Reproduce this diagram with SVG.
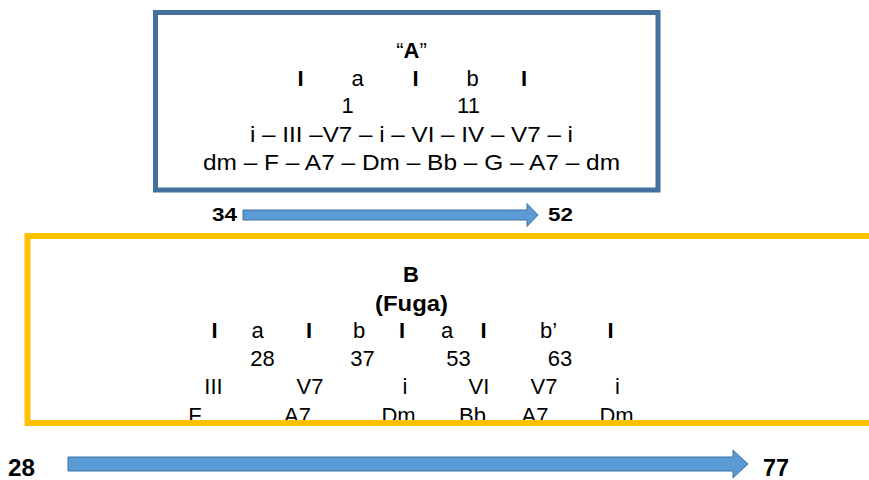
<svg xmlns="http://www.w3.org/2000/svg" width="869" height="480" viewBox="0 0 869 480">
<style>
text{font-family:"Liberation Sans",Arial,sans-serif;fill:#000;}
.t{font-size:22px;text-anchor:middle;}
.b{font-weight:bold;}
.n{font-size:19px;font-weight:bold;}
.n2{font-size:23px;font-weight:bold;}
.arrow{fill:#5B9BD5;stroke:#41719C;stroke-width:1;}
</style>
<rect width="869" height="480" fill="#fff"/>
<g id="sectionA">
<rect x="155.5" y="12.5" width="502.5" height="177.5" fill="#fff" stroke="#41719C" stroke-width="5"/>
<text class="t" x="411.5" y="58">“<tspan class="b">A</tspan>”</text>
<text class="t b" x="300.5" y="86">I</text>
<text class="t" x="357.5" y="86">a</text>
<text class="t b" x="415.5" y="86">I</text>
<text class="t" x="472.5" y="86">b</text>
<text class="t b" x="524" y="86">I</text>
<text class="t" x="347.5" y="113">1</text>
<text class="t" x="468.5" y="113">11</text>
<text x="250" y="142" font-size="22" textLength="323" lengthAdjust="spacingAndGlyphs">i – III –V7 – i – VI – IV – V7 – i</text>
<text x="203" y="170" font-size="22" textLength="417" lengthAdjust="spacingAndGlyphs">dm – F – A7 – Dm – Bb – G – A7 – dm</text>
</g>
<g id="sectionB">
<text class="t b" x="411" y="282">B</text>
<text class="t b" x="411.5" y="311" textLength="73" lengthAdjust="spacingAndGlyphs">(Fuga)</text>
<text class="t b" x="214.5" y="338">I</text>
<text class="t" x="257.5" y="338">a</text>
<text class="t b" x="309" y="338">I</text>
<text class="t" x="359" y="338">b</text>
<text class="t b" x="402" y="338">I</text>
<text class="t" x="447" y="338">a</text>
<text class="t b" x="483.5" y="338">I</text>
<text class="t" x="548.5" y="338">b’</text>
<text class="t b" x="610.5" y="338">I</text>
<text class="t" x="262.5" y="366">28</text>
<text class="t" x="362.5" y="366">37</text>
<text class="t" x="458.5" y="366">53</text>
<text class="t" x="560" y="366">63</text>
<text class="t" x="213.5" y="394">III</text>
<text class="t" x="310" y="394">V7</text>
<text class="t" x="405" y="394">i</text>
<text class="t" x="479" y="394">VI</text>
<text class="t" x="544" y="394">V7</text>
<text class="t" x="617.5" y="394">i</text>
<text class="t" x="195" y="423">F</text>
<text class="t" x="297.5" y="423">A7</text>
<text class="t" x="398.5" y="423">Dm</text>
<text class="t" x="472.5" y="423">Bb</text>
<text class="t" x="535" y="423">A7</text>
<text class="t" x="616.5" y="423">Dm</text>
<rect x="0" y="426" width="869" height="10" fill="#fff"/>
<rect x="27.5" y="236" width="900" height="187" fill="none" stroke="#FFC000" stroke-width="6"/>
</g>
<g id="labels">
<text class="n" x="212" y="221" textLength="25" lengthAdjust="spacingAndGlyphs">34</text>
<text class="n" x="548" y="221" textLength="25" lengthAdjust="spacingAndGlyphs">52</text>
<text class="n2" x="8" y="476" textLength="27" lengthAdjust="spacingAndGlyphs">28</text>
<text class="n2" x="763" y="476" textLength="26" lengthAdjust="spacingAndGlyphs">77</text>
</g>
<g id="connectors">
<path class="arrow" d="M243,210 H527 V203.5 L538,215 L527,226.5 V220 H243 Z"/>
<path class="arrow" d="M68,457 H733 V450 L748,464 L733,478 V471 H68 Z"/>
</g>
</svg>
